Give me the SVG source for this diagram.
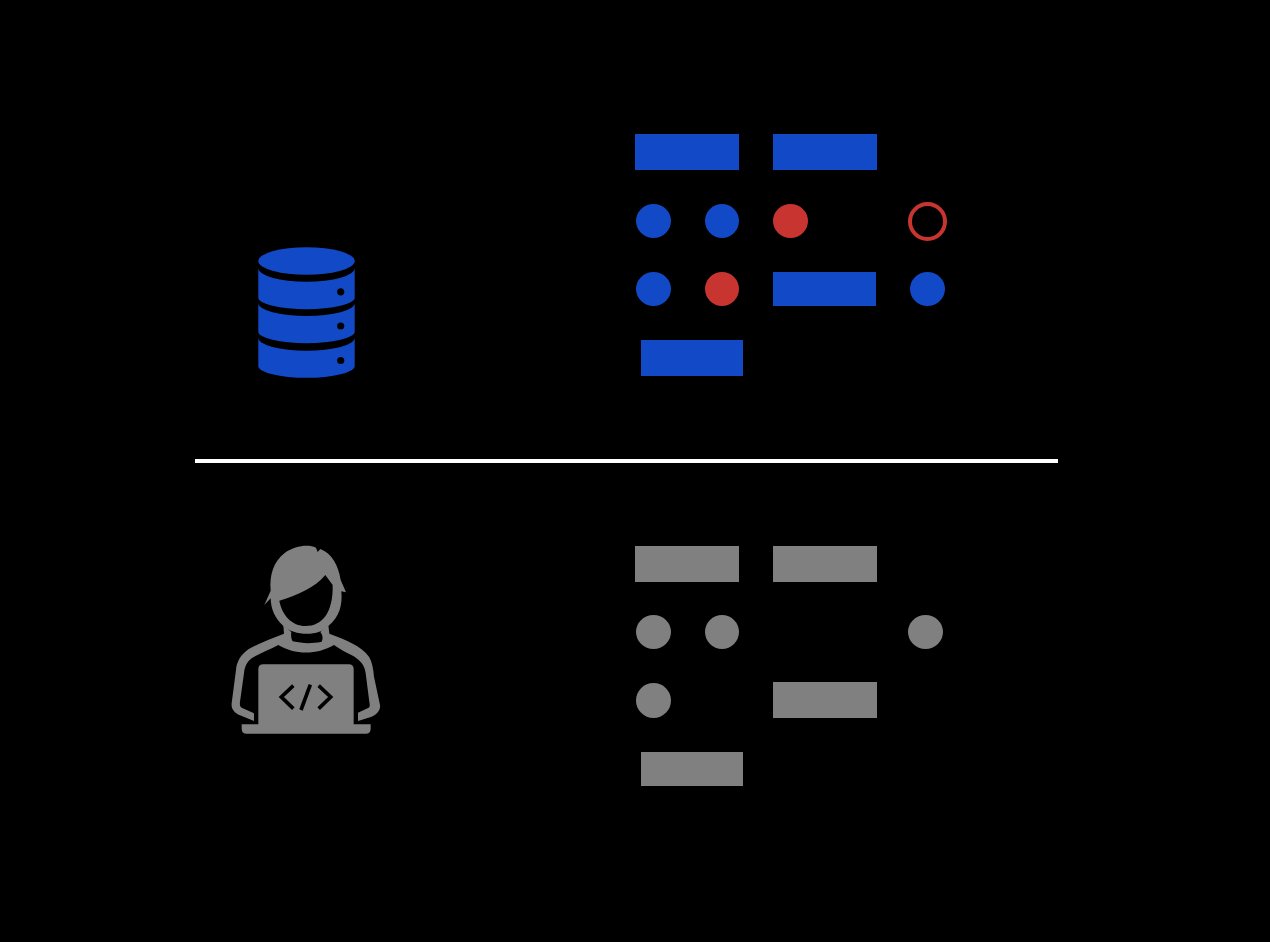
<svg xmlns="http://www.w3.org/2000/svg" width="1270" height="942" viewBox="0 0 1270 942">
<style>
.b{fill:#1249c6}.r{fill:#c83530}.g{fill:#808080}.k{fill:#000}
</style>
<rect width="1270" height="942" fill="#000"/>
<g id="db" class="b">
<ellipse cx="306.5" cy="261" rx="48.2" ry="13.8"/>
<path d="M258.3 268A48.2 13.8 0 0 0 354.7 268V297.7A48.2 11.5 0 0 1 258.3 297.7Z"/>
<path d="M258.3 303A48.2 13 0 0 0 354.7 303V331.7A48.2 11.5 0 0 1 258.3 331.7Z"/>
<path d="M258.3 337.7A48.2 13 0 0 0 354.7 337.7V366A48.2 11.8 0 0 1 258.3 366Z"/>
<circle class="k" cx="340.7" cy="291.8" r="3.6"/><circle class="k" cx="340.7" cy="326" r="3.6"/><circle class="k" cx="340.7" cy="360.5" r="3.6"/>
</g>
<g id="top-row">
<rect id="t1" class="b" x="635" y="134" width="104" height="36"/>
<rect id="t2" class="b" x="773" y="134" width="104" height="36"/>
<ellipse id="t3" class="b" cx="653.5" cy="221" rx="17.5" ry="17"/>
<circle id="t4" class="b" cx="722" cy="221" r="17"/>
<ellipse id="t5" class="r" cx="790.5" cy="221" rx="17.5" ry="17"/>
<circle id="t6" cx="927.5" cy="221.5" r="17.5" fill="none" stroke="#c83530" stroke-width="4"/>
<ellipse id="t7" class="b" cx="653.5" cy="289" rx="17.5" ry="17"/>
<circle id="t8" class="r" cx="722" cy="289" r="17"/>
<rect id="t9" class="b" x="773" y="272" width="103" height="34"/>
<ellipse id="t10" class="b" cx="927.5" cy="289" rx="17.5" ry="17"/>
<rect id="t11" class="b" x="641" y="340" width="102" height="36"/>
</g>
<rect id="divider" x="195" y="459" width="863" height="4" fill="#fff"/>
<g id="person" class="g" transform="translate(220 530) scale(.33333)">
<path fill-rule="evenodd" d="M133 225L152 182C148 135 160 95 195 68C225 47 265 42 288 53L293 66L301 57C335 70 355 105 362 150L378 187L364 184C368 225 358 262 325 288C300 318 225 320 190 288C165 265 153 240 152 205ZM178 212C186 255 215 288 257 288C305 288 340 250 338 165L316 135C285 172 235 195 178 212Z"/>
<path d="M190 285L214 306C212 318 214 326 218 334C250 341 275 341 305 335C309 326 309 316 301 306L325 285L328 311C375 328 425 348 447 380C456 395 460 415 462 440L480 525C482 540 472 552 455 560L414 573V548L446 533C451 530 449 522 448 515L437 430C435 410 425 393 400 378C380 368 360 358 342 345C290 375 225 375 175 345C150 360 120 368 95 385C80 397 74 410 72 430L60 515C59 525 60 530 65 533L102 550V573L60 556C42 548 33 535 35 520L48 420C50 395 62 375 85 358C115 340 155 325 192 311Z"/>
<path d="M115 583V418Q115 403 130 403H386Q401 403 401 418V583H452V596Q452 611 437 611H80Q65 611 65 596V583Z"/>
<g fill="none" stroke="#000" stroke-width="11">
<path d="M220 467L184 501L220 536"/><path d="M296 467L332 501L296 536"/><path d="M271 464L243 540"/>
</g>
</g>
<g id="bottom-row" class="g">
<rect id="u1" x="635" y="546" width="104" height="36"/>
<rect id="u2" x="773" y="546" width="104" height="36"/>
<ellipse id="u3" cx="653.5" cy="632" rx="17.5" ry="17"/>
<circle id="u4" cx="722" cy="632" r="17"/>
<ellipse id="u5" cx="925.5" cy="632" rx="17.5" ry="17"/>
<circle id="u6" cx="653.5" cy="700.5" r="17.5"/>
<rect id="u7" x="773" y="682" width="104" height="36"/>
<rect id="u8" x="641" y="752" width="102" height="34"/>
</g>
<g id="connectors"/>
</svg>
